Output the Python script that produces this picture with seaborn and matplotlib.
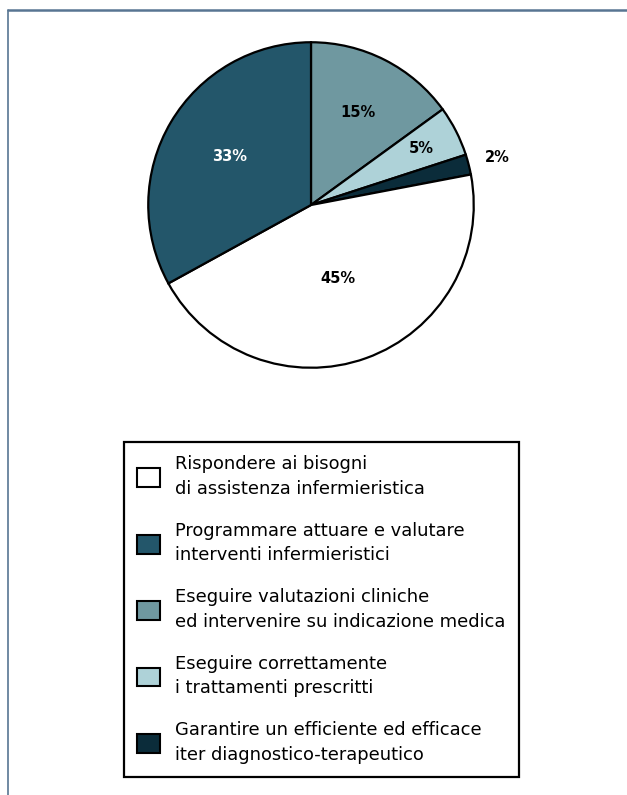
import numpy as np
import matplotlib
matplotlib.use('Agg')
import matplotlib.pyplot as plt
import seaborn as sns
from matplotlib.lines import Line2D
from matplotlib.patches import Patch

# Slices, clockwise from 12 o'clock
labels = [
    'Eseguire valutazioni cliniche\ned intervenire su indicazione medica',
    'Eseguire correttamente\ni trattamenti prescritti',
    'Garantire un efficiente ed efficace\niter diagnostico-terapeutico',
    'Rispondere ai bisogni\ndi assistenza infermieristica',
    'Programmare attuare e valutare\ninterventi infermieristici',
]
values = [15, 5, 2, 45, 33]
colors = ['#6F98A0', '#AED2D8', '#0B2C3A', '#FFFFFF', '#23566A']
text_colors = ['black', 'black', 'black', 'black', 'white']
label_dist = [0.64, 0.76, 1.18, 0.48, 0.58]

# legend order as in the source
legend_order = [3, 4, 0, 1, 2]

W, H = 627, 795


def main():
    sns.set_style('white')
    plt.rcParams['font.family'] = ['DejaVu Sans']
    plt.rcParams['text.color'] = 'black'
    fig = plt.figure(figsize=(W / 100, H / 100), dpi=100)

    # pie centre (311, 205) px, radius 166 px
    cx, cy, r = 311, 205, 166
    ax = fig.add_axes([(cx - r) / W, 1 - (cy + r) / H, 2 * r / W, 2 * r / H])
    wedges, _ = ax.pie(values, colors=colors, startangle=90, counterclock=False,
                       wedgeprops=dict(edgecolor='black', linewidth=1.6))
    for w, txt, d, tc in zip(wedges, values, label_dist, text_colors):
        th = np.deg2rad((w.theta1 + w.theta2) / 2)
        ax.text(d * np.cos(th), d * np.sin(th), f'{txt}%', ha='center', va='center',
                fontsize=10.5, fontweight='bold', color=tc)
    ax.set_xlim(-1.02, 1.02)
    ax.set_ylim(-1.02, 1.02)
    ax.set_aspect('equal')
    ax.axis('off')

    handles = [Patch(facecolor=colors[i], edgecolor='black', linewidth=1.5) for i in legend_order]
    leg = fig.legend(handles, [labels[i] for i in legend_order],
                     loc='upper left', bbox_to_anchor=(124 / W, 1 - 442 / H),
                     frameon=True, fancybox=False, shadow=False, framealpha=1,
                     fontsize=12.9, handlelength=1.25, handleheight=1.25,
                     handletextpad=0.85, labelspacing=1.35, borderpad=0.75,
                     borderaxespad=0)
    for t in leg.get_texts():
        t.set_linespacing(1.45)
        t.set_color('black')
    leg.get_frame().set_edgecolor('black')
    leg.get_frame().set_linewidth(1.6)
    leg.get_frame().set_facecolor('white')

    # page frame
    fc = '#587592'
    fig.add_artist(Line2D([8 / W, 1], [1 - 10 / H, 1 - 10 / H], color=fc, lw=1.8,
                          transform=fig.transFigure))
    fig.add_artist(Line2D([8 / W, 8 / W], [0, 1 - 10 / H], color=fc, lw=1.2,
                          transform=fig.transFigure))

    fig.savefig('out.png', dpi=100, facecolor='white')


if __name__ == '__main__':
    main()
